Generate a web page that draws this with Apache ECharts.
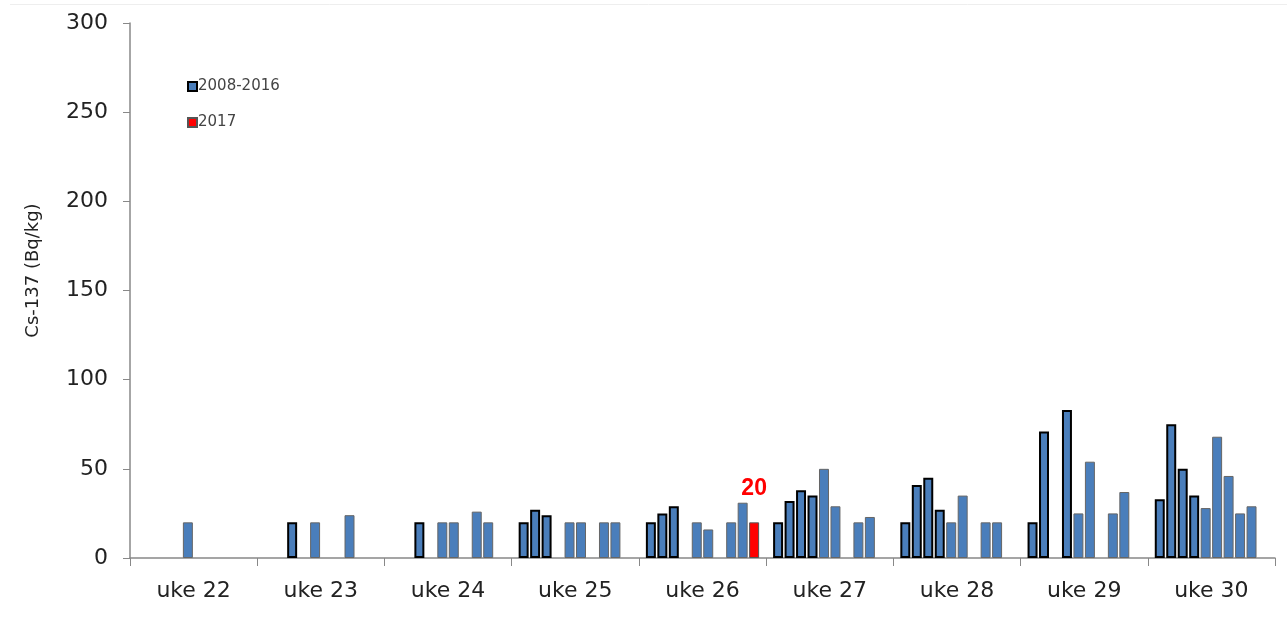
<!DOCTYPE html>
<html>
<head>
<meta charset="utf-8">
<script src="https://cdn.jsdelivr.net/npm/echarts@6/dist/echarts.min.js"></script>
<style>
  html, body { margin: 0; padding: 0; background: #fff; }
  #chart { width: 1287px; height: 621px; }
</style>
</head>
<body>
<div id="chart"></div>
<script>
// uker (kategorier)
const weeks = ['uke 22', 'uke 23', 'uke 24', 'uke 25', 'uke 26', 'uke 27', 'uke 28', 'uke 29', 'uke 30'];

// Cs-137 (Bq/kg) per år, en verdi per uke (null = ingen måling)
const v2008 = [null, null, null, 20, 20, 20, 20, 20, 33];
const v2009 = [null, null, null, 27, 25, 32, 41, 71, 75];
const v2010 = [null, 20, 20, 24, 29, 38, 45, null, 50];
const v2011 = [null, null, null, null, null, 35, 27, 83, 35];
const v2012 = [20, 20, 20, 20, 20, 50, 20, 25, 28];
const v2013 = [null, null, 20, 20, 16, 29, 35, 54, 68];
const v2014 = [null, null, null, null, null, null, null, null, 46];
const v2015 = [null, 24, 26, 20, 20, 20, 20, 25, 25];
const v2016 = [null, null, 20, 20, 31, 23, 20, 37, 29];
const v2017 = [null, null, null, null, 20, null, null, null, null];

const yTicks = [0, 50, 100, 150, 200, 250, 300];

const oldYears = [v2008, v2009, v2010, v2011, v2012, v2013, v2014, v2015, v2016];

const blue = '#4a7ebb';
const font = 'DejaVu Sans, sans-serif';

const series = oldYears.map((data, i) => ({
  name: '2008-2016',
  type: 'bar',
  data: data,
  barGap: '15%',
  barCategoryGap: '11%',
  itemStyle: {
    color: blue,
    // 2008-2011 med tykk svart kant, resten tynn grå
    borderColor: i < 4 ? '#000' : '#666',
    borderWidth: i < 4 ? 2 : 1
  }
}));

series.push({
  name: '2017',
  type: 'bar',
  data: v2017,
  barGap: '15%',
  barCategoryGap: '11%',
  itemStyle: { color: '#ff0000', borderColor: '#555', borderWidth: 1 },
  label: {
    show: true,
    position: 'top',
    distance: 22,
    color: '#ff0000',
    fontWeight: 'bold',
    fontSize: 23,
    fontFamily: 'Liberation Sans, Arial, sans-serif'
  }
});

const chart = echarts.init(document.getElementById('chart'));
chart.setOption({
  animation: false,
  textStyle: { fontFamily: font },
  grid: { left: 130, right: 12, top: 23, bottom: 63 },
  graphic: [{
    type: 'line',
    shape: { x1: 10, y1: 4.5, x2: 1287, y2: 4.5 },
    style: { stroke: '#eeeeee', lineWidth: 1 }
  }],
  legend: {
    data: ['2008-2016', '2017'],
    orient: 'vertical',
    left: 182,
    top: 74,
    icon: 'rect',
    itemWidth: 9,
    itemHeight: 9,
    itemGap: 21,
    textStyle: { fontSize: 15, color: '#444', padding: [0, 0, 0, -4] }
  },
  xAxis: {
    type: 'category',
    data: weeks,
    axisLine: { lineStyle: { color: '#888', width: 1.5 } },
    axisTick: { show: true, length: 8, lineStyle: { color: '#888' } },
    axisLabel: { color: '#222', fontSize: 22, margin: 22 }
  },
  yAxis: {
    type: 'value',
    min: yTicks[0],
    max: yTicks[yTicks.length - 1],
    interval: 50,
    name: 'Cs-137 (Bq/kg)',
    nameLocation: 'middle',
    nameRotate: 90,
    nameGap: 88,
    nameTextStyle: { color: '#222', fontSize: 18, padding: [0, 0, 0, 40] },
    splitLine: { show: false },
    axisLine: { show: true, lineStyle: { color: '#888', width: 1.5 } },
    axisTick: { show: true, length: 7, lineStyle: { color: '#888' } },
    axisLabel: { color: '#222', fontSize: 22, margin: 22 }
  },
  series: series
});
</script>
</body>
</html>
